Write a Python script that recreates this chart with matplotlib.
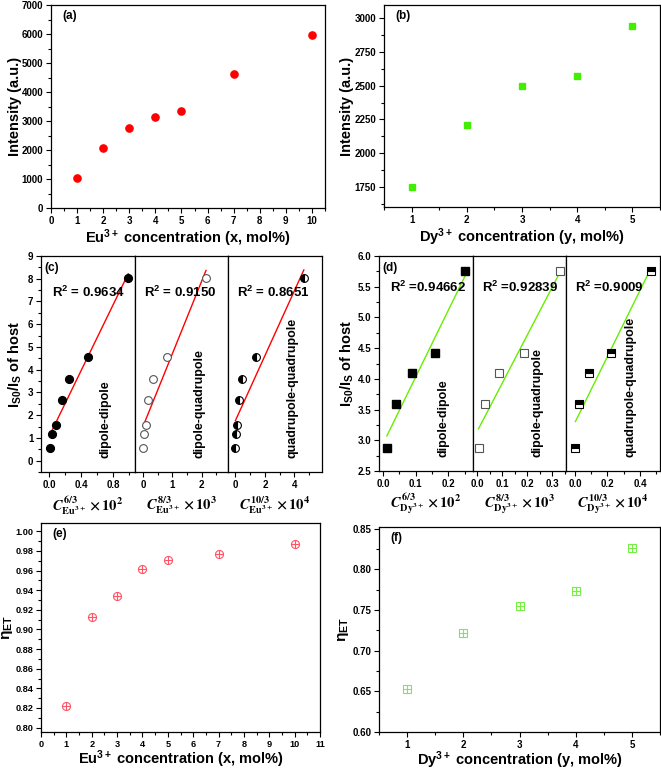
import numpy as np
import matplotlib.pyplot as plt
from matplotlib.ticker import MultipleLocator, FormatStrFormatter

plt.rcParams['font.family'] = ['Liberation Sans', 'DejaVu Sans']
plt.rcParams['font.weight'] = 'bold'
plt.rcParams['axes.labelweight'] = 'bold'
plt.rcParams['mathtext.fontset'] = 'custom'
plt.rcParams['mathtext.rm'] = 'Liberation Sans:bold'
plt.rcParams['mathtext.it'] = 'Liberation Sans:bold:italic'
plt.rcParams['mathtext.bf'] = 'Liberation Sans:bold'
plt.rcParams['mathtext.default'] = 'rm'
plt.rcParams['axes.linewidth'] = 0.9

# ---- data ----
eu_conc = [1, 2, 3, 4, 5, 7, 10]
eu_intensity = [1045, 2085, 2750, 3130, 3335, 4615, 5980]
dy_conc = [1, 2, 3, 4, 5]
dy_intensity = [1752, 2207, 2497, 2576, 2944]

eu_ratio = [0.55, 1.15, 1.55, 2.68, 3.58, 4.54, 8.02]
eu_c6 = [0.01, 0.04, 0.09, 0.16, 0.25, 0.49, 0.99]
eu_c8 = [0.005, 0.03, 0.09, 0.19, 0.34, 0.83, 2.15]
eu_c10 = [0.002, 0.02, 0.08, 0.22, 0.46, 1.42, 4.64]
eu_r2 = ['0.9634', '0.9150', '0.8651']

dy_ratio = [2.87, 3.59, 4.09, 4.42, 5.75]
dy_c6 = [0.012, 0.04, 0.09, 0.16, 0.25]
dy_c8 = [0.006, 0.03, 0.087, 0.185, 0.33]
dy_c10 = [0.003, 0.022, 0.084, 0.22, 0.466]
dy_r2 = ['0.94662', '0.92839', '0.9009']

eu_eff = [0.8215, 0.9126, 0.9345, 0.9618, 0.9713, 0.9771, 0.9867]
dy_eff = [0.6525, 0.7217, 0.7550, 0.7734, 0.8256]

mechanisms = ['dipole-dipole', 'dipole-quadrupole', 'quadrupole-quadrupole']

W, H = 661, 771
fig = plt.figure(figsize=(W / 100, H / 100), dpi=100)


def add_ax(l, t, r, b):
    return fig.add_axes([l / W, 1 - b / H, (r - l) / W, (b - t) / H])


def style(ax, xmaj, xmin, ymaj, ymin, size=7):
    ax.xaxis.set_major_locator(MultipleLocator(xmaj))
    ax.xaxis.set_minor_locator(MultipleLocator(xmin))
    ax.yaxis.set_major_locator(MultipleLocator(ymaj))
    ax.yaxis.set_minor_locator(MultipleLocator(ymin))
    ax.tick_params(which='both', direction='out', top=False, right=False,
                   labelsize=size, width=0.8, pad=2)
    ax.tick_params(which='major', length=3.5)
    ax.tick_params(which='minor', length=2)


def panel_label(ax, s):
    ax.text(0.04, 0.945, s, transform=ax.transAxes, fontsize=8.5,
            ha='left', va='center')


def set_x(ax, text, y, **kw):
    ax.set_xlabel(text, fontsize=10.5, va='center', **kw)
    ax.xaxis.set_label_coords(0.5, y)


def set_y(ax, text, x, size=10.5):
    ax.set_ylabel(text, fontsize=size, va='center')
    ax.yaxis.set_label_coords(x, 0.5)


# (a)
ax = add_ax(51, 5, 325, 208)
ax.plot(eu_conc, eu_intensity, 'o', color='#ff0000', ms=5.2)
ax.set_xlim(0, 10.5)
ax.set_ylim(0, 7000)
style(ax, 1, 0.5, 1000, 500)
set_x(ax, 'Eu$^{3+}$ concentration (x, mol%)', -0.148)
set_y(ax, 'Intensity (a.u.)', -0.131)
panel_label(ax, '(a)')

# (b)
ax = add_ax(384, 5, 660, 207)
ax.plot(dy_conc, dy_intensity, 's', color='#44ee00', ms=4.3)
ax.set_xlim(0.5, 5.5)
ax.set_ylim(1600, 3100)
style(ax, 1, 0.5, 250, 125)
set_x(ax, 'Dy$^{3+}$ concentration (y, mol%)', -0.149)
set_y(ax, 'Intensity (a.u.)', -0.134)
panel_label(ax, '(b)')


def fit_panels(edges, t, b, xs, ys, r2s, marker, fills, line_color, xlims,
               xticks, ylim, yticks, ylabel, xlabels, tag, r2_fmt, ypos_r2,
               ylab_x, xlab_y):
    axes = []
    for i in range(3):
        ax = add_ax(edges[i], t, edges[i + 1], b)
        xm, xn = xticks[i]
        style(ax, xm, xn, yticks[0], yticks[1])
        x = np.array(xs[i])
        y = np.array(ys)
        k, c = np.polyfit(x, y, 1)
        xx = np.array([x.min(), x.max()])
        ax.plot(xx, k * xx + c, '-', color=line_color, lw=1.0, zorder=2)
        mk = dict(marker=marker, ls='none', ms=5.6, zorder=3)
        if fills[i] == 'full':
            ax.plot(x, y, color='black', mec='black', **mk)
        elif fills[i] == 'none':
            ax.plot(x, y, color='#555555', mfc='white', mec='#555555', mew=0.8, **mk)
        else:
            ax.plot(x, y, color='black', mec='black', fillstyle=fills[i],
                    markerfacecoloralt='white', mew=0.8, **mk)
        ax.set_xlim(*xlims[i])
        ax.set_ylim(*ylim)
        ax.text(0.1 if i else 0.12, ypos_r2, r2_fmt.format(r2s[i]),
                transform=ax.transAxes, fontsize=9.5, ha='left', va='center')
        ax.text(0.69, 0.065, mechanisms[i], transform=ax.transAxes,
                rotation=90, fontsize=9, ha='center', va='bottom')
        set_x(ax, xlabels[i], xlab_y, math_fontfamily='stix', fontweight='normal')
        if i == 0:
            set_y(ax, ylabel, ylab_x)
            panel_label(ax, tag)
        else:
            ax.tick_params(axis='y', which='both', left=False, labelleft=False)
        axes.append(ax)
    return axes


ylab = 'I$_{S0}$/I$_{S}$ of host'
axc = fit_panels([41, 135, 228, 322], 256, 472,
                 [eu_c6, eu_c8, eu_c10], eu_ratio, eu_r2, 'o',
                 ['full', 'none', 'left'], '#ff0000',
                 [(-0.1, 1.075), (-0.27, 2.9), (-0.5, 5.87)],
                 [(0.4, 0.2), (1, 0.5), (2, 1)], (-0.5, 9), (1, 0.5), ylab,
                 [r'$\mathit{C}^{6/3}_{\mathrm{Eu}^{3+}}\times10^{2}$',
                  r'$\mathit{C}^{8/3}_{\mathrm{Eu}^{3+}}\times10^{3}$',
                  r'$\mathit{C}^{10/3}_{\mathrm{Eu}^{3+}}\times10^{4}$'],
                 '(c)', 'R$^2$ = {}', 0.833, -0.277, -0.155)
axc[0].xaxis.set_major_formatter(FormatStrFormatter('%.1f'))

axd = fit_panels([379, 473, 566, 660], 256, 471,
                 [dy_c6, dy_c8, dy_c10], dy_ratio, dy_r2, 's',
                 ['full', 'none', 'top'], '#66ee00',
                 [(-0.012, 0.275), (-0.016, 0.354), (-0.055, 0.523)],
                 [(0.1, 0.05), (0.1, 0.05), (0.2, 0.1)], (2.5, 6.0), (0.5, 0.25), ylab,
                 [r'$\mathit{C}^{6/3}_{\mathrm{Dy}^{3+}}\times10^{2}$',
                  r'$\mathit{C}^{8/3}_{\mathrm{Dy}^{3+}}\times10^{3}$',
                  r'$\mathit{C}^{10/3}_{\mathrm{Dy}^{3+}}\times10^{4}$'],
                 '(d)', 'R$^2$ ={}', 0.856, -0.34, -0.155)
for ax in axd:
    ax.xaxis.set_major_formatter(FormatStrFormatter('%.1f'))
axd[0].yaxis.set_major_formatter(FormatStrFormatter('%.1f'))

# (e)
ax = add_ax(41, 523, 320, 732)
ax.plot(eu_conc, eu_eff, 'o', color='#ff5566', mfc='none', mew=0.8, ms=5.8)
ax.plot(eu_conc, eu_eff, '+', color='#ff5566', mew=0.8, ms=5.8)
ax.set_xlim(0, 11)
ax.set_ylim(0.7955, 1.0085)
style(ax, 1, 0.5, 0.02, 0.01, size=6.6)
ax.yaxis.set_major_formatter(FormatStrFormatter('%.2f'))
set_x(ax, 'Eu$^{3+}$ concentration (x, mol%)', -0.129)
set_y(ax, r'$\eta_{ET}$', -0.12, 11)
panel_label(ax, '(e)')

# (f)
ax = add_ax(379, 527, 660, 732)
ax.plot(dy_conc, dy_eff, 's', color='#77ee44', mfc='none', mew=0.8, ms=5.2)
ax.plot(dy_conc, dy_eff, '+', color='#77ee44', mew=0.8, ms=5.2)
ax.set_xlim(0.5, 5.5)
ax.set_ylim(0.6, 0.852)
style(ax, 1, 0.5, 0.05, 0.025)
ax.yaxis.set_major_formatter(FormatStrFormatter('%.2f'))
set_x(ax, 'Dy$^{3+}$ concentration (y, mol%)', -0.138)
set_y(ax, r'$\eta_{ET}$', -0.128, 11)
panel_label(ax, '(f)')

fig.savefig('out.png', dpi=100)
